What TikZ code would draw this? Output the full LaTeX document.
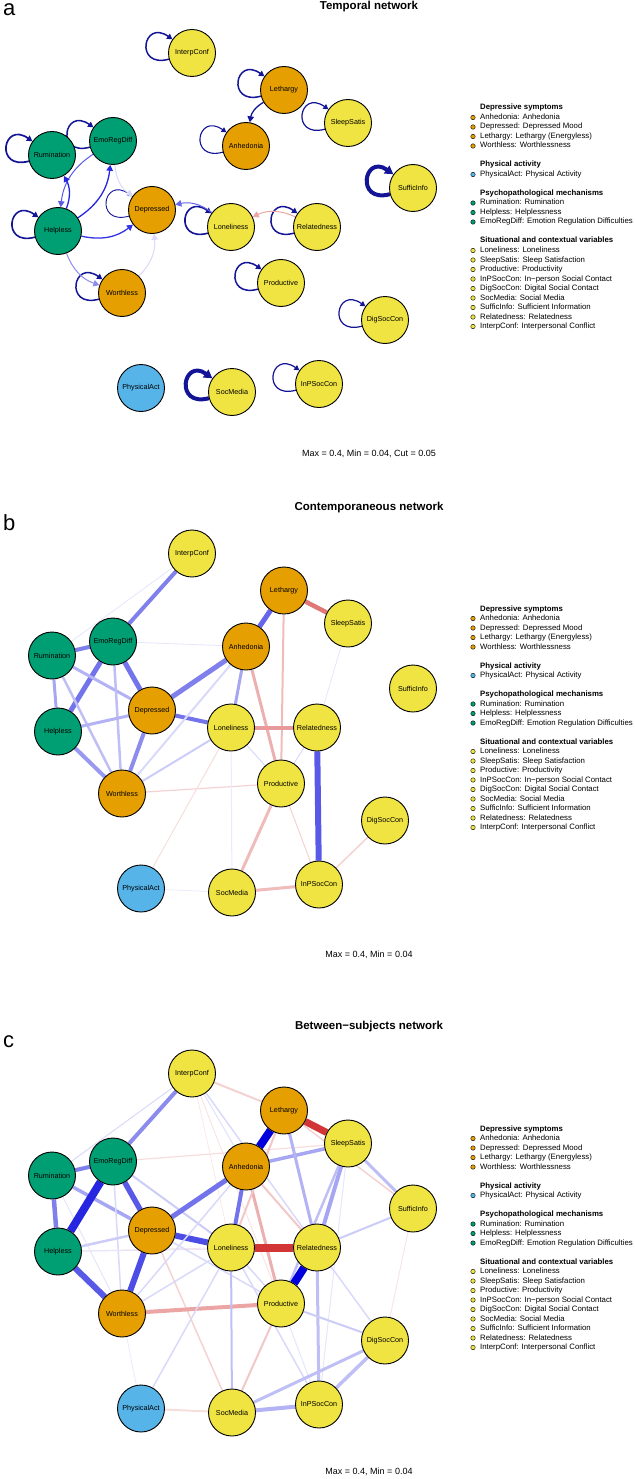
\documentclass[tikz,border=0pt]{standalone}
\usepackage{fontspec}
\setmainfont{Liberation Sans}
\usetikzlibrary{arrows.meta,backgrounds}

\definecolor{depr}{HTML}{E69F00}
\definecolor{mech}{HTML}{009E73}
\definecolor{phys}{HTML}{56B4E9}
\definecolor{situ}{HTML}{F0E442}
\definecolor{posc}{RGB}{0,0,220}
\definecolor{negc}{RGB}{205,30,30}
\definecolor{loopc}{RGB}{20,20,150}

\tikzset{
  netnode/.style={circle, draw=black, line width=0.9pt, minimum size=47pt, inner sep=0pt,
    font=\fontsize{7.2}{8}\selectfont},
  selfloop/.style={color=loopc, -{Triangle[length=3.5pt 1.2, width=4pt 1.3]}},
  diredge/.style={-{Triangle[length=6pt, width=6.5pt]}},
  leghead/.style={anchor=west, inner sep=0pt, text height=5.5pt, text depth=1.5pt,
    font=\fontsize{7.8}{9}\selectfont\bfseries},
  legitem/.style={anchor=west, inner sep=0pt, text height=5.5pt, text depth=1.5pt,
    font=\fontsize{7.8}{9}\selectfont},
  legdot/.style={circle, draw=black, line width=0.4pt, minimum size=4.5pt, inner sep=0pt},
  nettitle/.style={anchor=base, inner sep=0pt, font=\fontsize{11.5}{13}\selectfont\bfseries},
  netcaption/.style={font=\fontsize{9}{11}\selectfont},
  panellabel/.style={anchor=base west, inner sep=0pt, text height=12pt, font=\fontsize{22}{26}\selectfont},
}

\begin{document}
\begin{tikzpicture}[x=1pt,y=1pt]
\useasboundingbox (0,0) rectangle (634,-1479);

% panel letters, titles, captions
\node[panellabel] (laba) at (3,-16) {a};
\node[panellabel] (labb) at (3,-530) {b};
\node[panellabel] (labc) at (3,-1047) {c};
\node[nettitle] (titlea) at (369,-10) {Temporal network};
\node[nettitle] (titleb) at (369,-510) {Contemporaneous network};
\node[nettitle] (titlec) at (369,-1029) {Between−subjects network};
\node[netcaption] (capa) at (369,-454) {Max = 0.4, Min = 0.04, Cut = 0.05};
\node[netcaption] (capb) at (369,-955) {Max = 0.4, Min = 0.04};
\node[netcaption] (capc) at (369,-1472) {Max = 0.4, Min = 0.04};

% nodes, same layout in the three networks
\foreach \p/\dy in {a/0,b/500.5,c/1020.5}
  \foreach \n/\x/\y/\col in {InterpConf/192/53/situ, Lethargy/284/90/depr, SleepSatis/348/123/situ,
      Anhedonia/246/146/depr, Rumination/52/155/mech, EmoRegDiff/113/141/mech, SufficInfo/413/188/situ,
      Depressed/152/210/depr, Helpless/58/231/mech, Loneliness/231/227/situ, Relatedness/317/227/situ,
      Worthless/122/293/depr, Productive/281/283/situ, DigSocCon/385/320/situ,
      PhysicalAct/141/388/phys, SocMedia/232/392/situ, InPSocCon/319/384/situ}
    \node[netnode, fill=\col] (\p\n) at (\x,-\y-\dy) {\n};

% legends
\foreach \p/\dy in {a/0,b/501,c/1021}{
  \foreach \k/\txt in {0/Depressive symptoms, 6/Physical activity, 9/Psychopathological mechanisms,
      14/Situational and contextual variables}
    \node[leghead] (head\p\k) at (480,-108-9.5*\k-\dy) {\txt};
  \foreach \k/\col/\txt in {1/depr/Anhedonia: Anhedonia, 2/depr/Depressed: Depressed Mood,
      3/depr/Lethargy: Lethargy (Energyless), 4/depr/Worthless: Worthlessness,
      7/phys/PhysicalAct: Physical Activity,
      10/mech/Rumination: Rumination, 11/mech/Helpless: Helplessness,
      12/mech/EmoRegDiff: Emotion Regulation Difficulties,
      15/situ/Loneliness: Loneliness, 16/situ/SleepSatis: Sleep Satisfaction,
      17/situ/Productive: Productivity, 18/situ/InPSocCon: In−person Social Contact,
      19/situ/DigSocCon: Digital Social Contact, 20/situ/SocMedia: Social Media,
      21/situ/SufficInfo: Sufficient Information, 22/situ/Relatedness: Relatedness,
      23/situ/InterpConf: Interpersonal Conflict}{
    \node[legdot, fill=\col] (dot\p\k) at (473,-108-9.5*\k-\dy) {};
    \node[legitem] (item\p\k) at (480,-108-9.5*\k-\dy) {\txt};
  }
}

\begin{pgfonlayer}{background}
% a: autoregressive loops
\foreach \n/\w in {InterpConf/1.5, Lethargy/1.5, SleepSatis/1.2, Anhedonia/1.1, Rumination/1.7,
    EmoRegDiff/1.5, Helpless/1.6, Depressed/0.9, Loneliness/1.6, Relatedness/1.5, Worthless/1.5,
    Productive/1.5, SufficInfo/4, DigSocCon/1.2, SocMedia/4, InPSocCon/1.2}
  \draw[selfloop, line width=\w pt] (a\n) to[out=195, in=145, min distance=36pt] (a\n);
% a: cross-lagged
\foreach \na/\nb/\w/\col in {Lethargy/Anhedonia/1.3/loopc, EmoRegDiff/Helpless/1/posc!65,
    Helpless/Rumination/1.3/posc!85, Helpless/EmoRegDiff/1.3/posc!85, EmoRegDiff/Depressed/1/posc!15,
    Helpless/Depressed/1.3/posc!80, Worthless/Depressed/1/posc!15, Helpless/Worthless/1/posc!45,
    Loneliness/Depressed/1/posc!60, Relatedness/Loneliness/1/negc!40}
  \draw[diredge, line width=\w pt, color=\col] (a\na) to[bend right=25] (a\nb);

% b: contemporaneous
\foreach \na/\nb/\w/\col in {InterpConf/EmoRegDiff/4/posc!50, InterpConf/Rumination/0.8/posc!10,
    Rumination/EmoRegDiff/4/posc!50, EmoRegDiff/Helpless/5/posc!55, EmoRegDiff/Depressed/5/posc!55,
    Rumination/Helpless/3/posc!35, Rumination/Depressed/3/posc!30, Rumination/Worthless/2.5/posc!25,
    EmoRegDiff/Worthless/2.5/posc!25, Helpless/Depressed/3/posc!30, Helpless/Worthless/4/posc!40,
    Depressed/Worthless/4/posc!45, Depressed/Anhedonia/5/posc!50, Depressed/Loneliness/4/posc!55,
    Anhedonia/Lethargy/5/posc!60, Anhedonia/Loneliness/3/posc!35, Anhedonia/Productive/3/negc!35,
    Lethargy/SleepSatis/4.5/negc!60, Lethargy/Productive/2/negc!30, Loneliness/Relatedness/4/negc!45,
    Relatedness/InPSocCon/6/posc!65, Productive/SocMedia/3/negc!30, Productive/InPSocCon/1/negc!20,
    SocMedia/InPSocCon/3/negc!30, InPSocCon/DigSocCon/1.5/negc!20, Worthless/Productive/1.2/negc!20,
    PhysicalAct/Loneliness/1/negc!15, PhysicalAct/SocMedia/0.8/posc!8, Worthless/Loneliness/2/posc!20,
    Worthless/Anhedonia/2/posc!15, Loneliness/Productive/1/posc!15, Loneliness/SocMedia/1/posc!8,
    Relatedness/Productive/1/posc!15, EmoRegDiff/Anhedonia/0.8/posc!10, Relatedness/SleepSatis/0.8/posc!10}
  \draw[line width=\w pt, color=\col] (b\na) -- (b\nb);

% c: between-subjects
\foreach \na/\nb/\w/\col in {InterpConf/EmoRegDiff/4/posc!45, InterpConf/Rumination/1/posc!15,
    InterpConf/Lethargy/2/negc!20, InterpConf/Anhedonia/1/posc!12, InterpConf/Relatedness/1.5/posc!15,
    InterpConf/Productive/1/negc!12, InterpConf/Loneliness/0.8/negc!10,
    Rumination/EmoRegDiff/4/posc!50, Rumination/Helpless/4.5/posc!50, Rumination/Depressed/3.5/posc!35,
    Rumination/Worthless/1/posc!10, EmoRegDiff/Helpless/8/posc!85, EmoRegDiff/Depressed/5.5/posc!65,
    EmoRegDiff/Worthless/1.5/posc!15, EmoRegDiff/SleepSatis/1.2/negc!15, EmoRegDiff/Loneliness/2/posc!20,
    Helpless/Depressed/2.5/posc!20, Helpless/Worthless/6/posc!65, Helpless/Loneliness/1/negc!12,
    Helpless/Relatedness/1/posc!10, Depressed/Worthless/6/posc!70, Depressed/Anhedonia/5/posc!55,
    Depressed/Loneliness/6/posc!70, Depressed/Productive/1.5/posc!15, Depressed/SocMedia/1.5/negc!20,
    Worthless/Productive/4/negc!40, Worthless/Loneliness/1.5/posc!15, Worthless/PhysicalAct/0.8/posc!8,
    Worthless/Anhedonia/1.5/posc!15, Anhedonia/Lethargy/8/posc, Anhedonia/Loneliness/4/posc!55,
    Anhedonia/SleepSatis/3.5/posc!35, Anhedonia/Productive/3/negc!35, Anhedonia/Relatedness/2/negc!25,
    Lethargy/SleepSatis/7/negc!90, Lethargy/Relatedness/3/posc!30, Lethargy/Loneliness/2/negc!25,
    Lethargy/SufficInfo/1.5/negc!20, SleepSatis/Relatedness/4/posc!35, SleepSatis/Productive/2.5/posc!25,
    SleepSatis/SufficInfo/3/posc!25, SleepSatis/InPSocCon/1/posc!10, Loneliness/Relatedness/8/negc!90,
    Loneliness/SocMedia/2/posc!25, Loneliness/PhysicalAct/1.5/posc!15, Loneliness/Productive/1.5/posc!15,
    Loneliness/InPSocCon/1.5/posc!15, Relatedness/Productive/8/posc, Relatedness/SufficInfo/2/posc!20,
    Relatedness/InPSocCon/3/posc!25, Relatedness/DigSocCon/1.5/posc!15, Productive/SocMedia/2/negc!25,
    Productive/DigSocCon/2/posc!20, Productive/InPSocCon/1/posc!10, DigSocCon/InPSocCon/3.5/posc!25,
    DigSocCon/SocMedia/3/posc!25, DigSocCon/SufficInfo/1/negc!12, SocMedia/InPSocCon/4/posc!30,
    SocMedia/PhysicalAct/2/negc!15}
  \draw[line width=\w pt, color=\col] (c\na) -- (c\nb);
\end{pgfonlayer}
\end{tikzpicture}
\end{document}
